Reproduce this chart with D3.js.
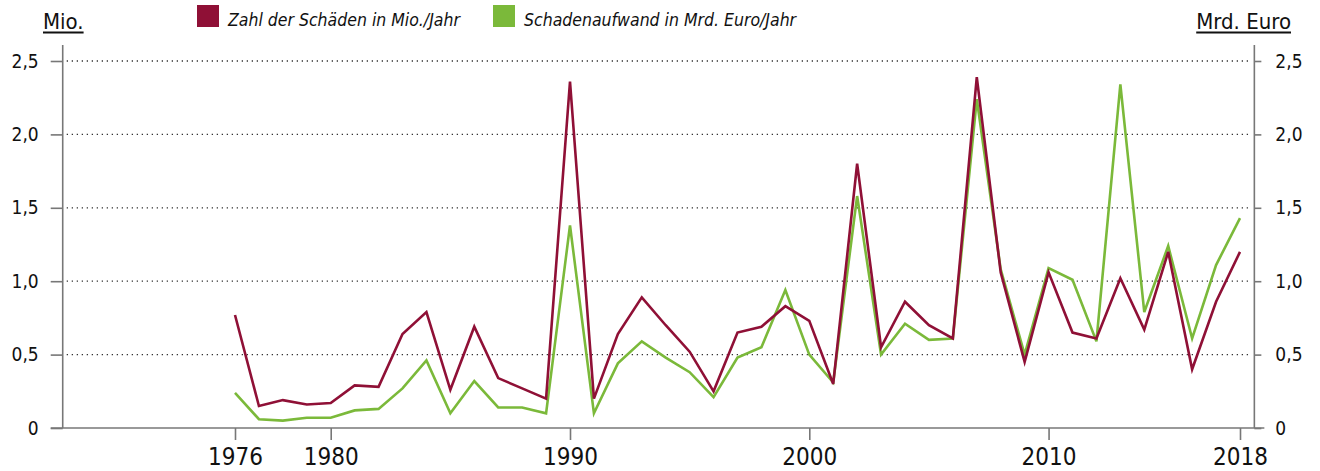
<!DOCTYPE html>
<meta charset="utf-8">
<style>
body {
  margin: 0;
  background: #fff;
  font-family: "DejaVu Sans Condensed", "DejaVu Sans", sans-serif;
  font-stretch: condensed;
}
.grid line {
  stroke: #333;
  stroke-width: 1.3px;
  stroke-dasharray: 1.3, 3.7;
}
.frame {
  stroke: #777;
  stroke-width: 1.6px;
  fill: none;
}
.series {
  fill: none;
  stroke-width: 2.6px;
  stroke-linejoin: miter;
}
</style>
<svg width="1320" height="471"></svg>
<script src="https://cdn.jsdelivr.net/npm/d3@7"></script>
<script>
// years 1976 - 2018
var years = d3.range(1976, 2019);

// Zahl der Schäden in Mio. pro Jahr
var schaeden = [0.77, 0.15, 0.19, 0.16, 0.17, 0.29, 0.28, 0.64, 0.79, 0.26,
  0.69, 0.34, 0.27, 0.20, 2.36, 0.20, 0.64, 0.89, 0.70, 0.52,
  0.25, 0.65, 0.69, 0.83, 0.73, 0.30, 1.80, 0.55, 0.86, 0.70,
  0.61, 2.39, 1.06, 0.45, 1.06, 0.65, 0.61, 1.02, 0.67, 1.20,
  0.40, 0.86, 1.20];

// Schadenaufwand in Mrd. Euro pro Jahr
var aufwand = [0.24, 0.06, 0.05, 0.07, 0.07, 0.12, 0.13, 0.27, 0.46, 0.10,
  0.32, 0.14, 0.14, 0.10, 1.38, 0.10, 0.44, 0.59, 0.48, 0.38,
  0.21, 0.48, 0.55, 0.94, 0.50, 0.31, 1.58, 0.50, 0.71, 0.60,
  0.61, 2.24, 1.08, 0.50, 1.09, 1.01, 0.59, 2.34, 0.79, 1.24,
  0.61, 1.11, 1.43];

var xTicks = [1976, 1980, 1990, 2000, 2010, 2018];
var yTicks = [0, 0.5, 1, 1.5, 2, 2.5];
var legendItems = [
  {label: "Zahl der Schäden in Mio./Jahr", color: "#8f1036"},
  {label: "Schadenaufwand in Mrd. Euro/Jahr", color: "#7bb93a"}
];

var svg = d3.select("svg");

var x = d3.scaleLinear().domain([1976, 2018]).range([235, 1240]);
var xLeft = 1968.8, xRight = 2018.6;
var y = d3.scaleLinear().domain([0, 2.5]).range([428, 61]);

var fmt = function(d) { return d === 0 ? "0" : d3.format(".1f")(d).replace(".", ","); };

// dotted grid
svg.append("g").attr("class", "grid")
  .selectAll("line")
  .data(yTicks.filter(function(d) { return d > 0; }))
  .enter().append("line")
    .attr("x1", x(xLeft) + 4)
    .attr("x2", x(xRight) - 3)
    .attr("y1", function(d) { return y(d); })
    .attr("y2", function(d) { return y(d); });

// y axes
var yAxisL = d3.axisLeft(y).tickValues(yTicks).tickSize(12).tickPadding(12).tickFormat(fmt);
var yAxisR = d3.axisRight(y).tickValues(yTicks).tickSize(7).tickPadding(14).tickFormat(fmt);

var gl = svg.append("g").attr("transform", "translate(" + x(xLeft) + ",0)").call(yAxisL);
var gr = svg.append("g").attr("transform", "translate(" + x(xRight) + ",0)").call(yAxisR);

// x axis
var xAxis = d3.axisBottom(x).tickValues(xTicks).tickSize(12).tickPadding(6).tickFormat(d3.format("d"));
var gx = svg.append("g").attr("transform", "translate(0," + y(0) + ")").call(xAxis);

[gl, gr, gx].forEach(function(g) {
  g.select(".domain").remove();
  g.selectAll(".tick line").attr("stroke", "#777").attr("stroke-width", 1.6);
  g.selectAll(".tick text").attr("fill", "#111");
  g.attr("font-family", null);
});
gl.selectAll(".tick text").attr("font-size", 19);
gr.selectAll(".tick text").attr("font-size", 19);
gx.selectAll(".tick text").attr("font-size", 24).attr("dy", "0.78em");

// frame lines
svg.append("line").attr("class", "frame")
  .attr("x1", x(xLeft)).attr("x2", x(xLeft)).attr("y1", y(2.5) - 16).attr("y2", y(0));
svg.append("line").attr("class", "frame")
  .attr("x1", x(xRight)).attr("x2", x(xRight)).attr("y1", y(2.5) - 16).attr("y2", y(0));
svg.append("line").attr("class", "frame")
  .attr("x1", x(xLeft) - 12).attr("x2", x(xRight) + 10).attr("y1", y(0)).attr("y2", y(0));

// series lines
var line = d3.line()
  .x(function(d, i) { return x(years[i]); })
  .y(function(d) { return y(d); });

svg.append("path").attr("class", "series")
  .attr("stroke", legendItems[1].color)
  .attr("d", line(aufwand));
svg.append("path").attr("class", "series")
  .attr("stroke", legendItems[0].color)
  .attr("d", line(schaeden));

// unit titles
var tl = svg.append("text").attr("x", 43).attr("y", 29)
  .attr("font-size", 22).attr("fill", "#111").text("Mio.");
var tr = svg.append("text").attr("x", 1291).attr("y", 29)
  .attr("text-anchor", "end")
  .attr("font-size", 22).attr("fill", "#111").text("Mrd. Euro");
[tl, tr].forEach(function(t) {
  var b = t.node().getBBox();
  svg.append("line")
    .attr("x1", b.x).attr("x2", b.x + b.width)
    .attr("y1", 32.5).attr("y2", 32.5)
    .attr("stroke", "#111").attr("stroke-width", 2);
});

// legend
var legX = [197, 493];
var leg = svg.selectAll(".leg")
  .data(legendItems)
  .enter().append("g")
    .attr("class", "leg")
    .attr("transform", function(d, i) { return "translate(" + legX[i] + ",5)"; });
leg.append("rect").attr("width", 22).attr("height", 22)
  .attr("fill", function(d) { return d.color; });
leg.append("text")
  .attr("x", 31).attr("y", 21)
  .attr("font-size", 17.5)
  .attr("font-style", "italic")
  .attr("fill", "#111")
  .text(function(d) { return d.label; });
</script>
